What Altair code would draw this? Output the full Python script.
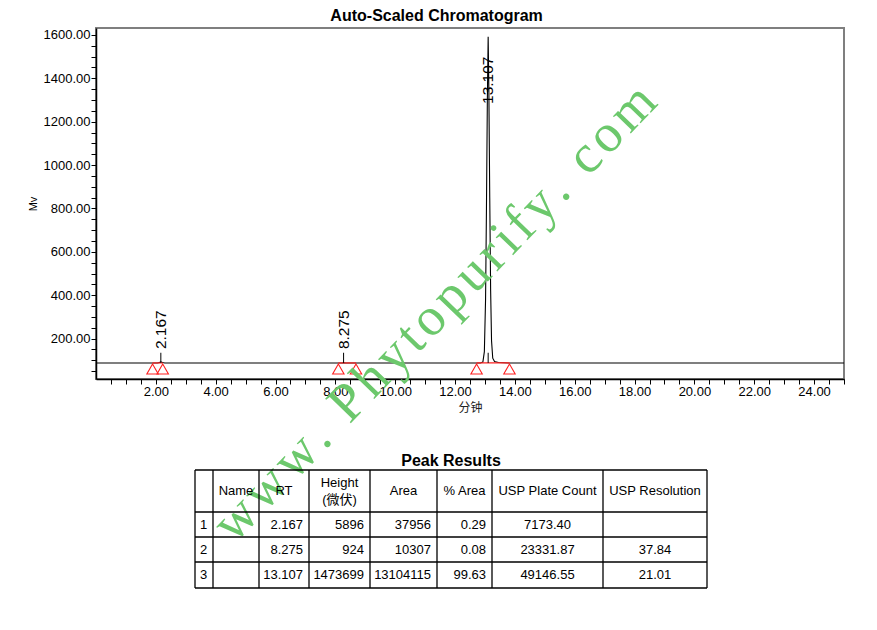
import altair as alt
import pandas as pd

# ---------------- data: chromatogram trace (minutes, mV) ----------------
time_min = [0.0, 2.05, 2.12, 2.167, 2.22, 2.30, 8.20, 8.275, 8.35, 12.85, 12.93, 12.98,
            13.02, 13.05, 13.08, 13.107, 13.13, 13.16, 13.19, 13.22, 13.26, 13.32, 13.45,
            13.80, 25.0]
signal_mv = [87.5, 87.5, 90.0, 93.4, 90.0, 87.5, 87.5, 88.4, 87.5, 87.5, 92.0, 140.0,
             380.0, 800.0, 1300.0, 1592.0, 1350.0, 850.0, 420.0, 190.0, 110.0, 95.0, 90.0,
             88.0, 87.5]

peak_rt = [2.167, 8.275, 13.107]
peak_label = ["2.167", "8.275", "13.107"]
peak_start = [1.89, 8.10, 12.72]
peak_end = [2.23, 8.69, 13.82]
peak_base_mv = [88.0, 88.0, 88.0]
peak_tick_top_mv = [135.0, 135.0, 135.0]
peak_label_mv = [152.0, 152.0, 1282.0]
marker_mv = 60.0

# ---------------- data: peak table ----------------
table_columns = ["", "Name", "RT", "Height\n(微伏)", "Area", "% Area", "USP Plate Count", "USP Resolution"]
row_index = ["1", "2", "3"]
names = ["", "", ""]
rt_text = ["2.167", "8.275", "13.107"]
height_uv = ["5896", "924", "1473699"]
area = ["37956", "10307", "13104115"]
pct_area = ["0.29", "0.08", "99.63"]
plate_count = ["7173.40", "23331.87", "49146.55"]
resolution = ["", "37.84", "21.01"]

# watermark text (letters spread with hair spaces)
watermark_text = "\u200a".join("www. Phytopurify. com")

# ---------------- layout (table geometry, relative to table panel) ----------------
col_edges = [99, 117, 163, 213, 274, 341, 396, 507, 611]
row_edges = [19, 61, 86, 111, 137]
col_align = ["left", "center", "right", "right", "right", "right", "center", "center"]
LINE_H = 17

FONT = "Liberation Sans, Arial, Noto Sans CJK SC"
CJK = "Noto Sans CJK SC"

x_tick_values = [i * 0.5 for i in range(1, 51)]
y_tick_values = [i * 50 for i in range(1, 33)]

xscale = alt.Scale(domain=[0, 25], nice=False, zero=False)
yscale = alt.Scale(domain=[14, 1632], nice=False, zero=False)

xaxis = alt.Axis(
    values=x_tick_values,
    labelExpr="(datum.value % 2 === 0 && datum.value < 25) ? format(datum.value, '.2f') : ''",
    labelOverlap=False, labelFlush=False, grid=False,
    domainColor="black", domainWidth=1.5, tickColor="black", tickWidth=1, tickSize=5,
    labelColor="black", labelFont=FONT, labelFontSize=13, labelPadding=1,
    titleFont=CJK, titleFontSize=12, titleFontWeight="normal", titleColor="#222222",
    titlePadding=4,
)
yaxis = alt.Axis(
    values=y_tick_values,
    labelExpr="datum.value % 200 === 0 ? format(datum.value, '.2f') : ''",
    labelOverlap=False, labelFlush=False, grid=False,
    domainColor="black", domainWidth=1.5, tickColor="black", tickWidth=1, tickSize=5,
    labelColor="black", labelFont=FONT, labelFontSize=13, labelPadding=1,
    titleFont=FONT, titleFontSize=11, titleFontWeight="normal", titleColor="black",
    titlePadding=5,
)


def X(field):
    return alt.X(field, scale=xscale, axis=xaxis, title="分钟")


def Y(field):
    return alt.Y(field, scale=yscale, axis=yaxis, title="Mv")


trace_df = pd.DataFrame({"t": time_min, "mv": signal_mv})
peaks_df = pd.DataFrame({
    "rt": peak_rt, "label": peak_label, "start": peak_start, "end": peak_end,
    "base": peak_base_mv, "tick_top": peak_tick_top_mv, "label_y": peak_label_mv,
})
markers_df = pd.DataFrame({
    "t": peak_start + peak_end,
    "mv": [marker_mv] * (len(peak_start) + len(peak_end)),
})

trace = alt.Chart(trace_df).mark_line(color="black", strokeWidth=1.1).encode(
    x=X("t:Q"), y=Y("mv:Q"),
)

red_base = alt.Chart(peaks_df).mark_rule(color="#ff2020", strokeWidth=1.2).encode(
    x=X("start:Q"), x2="end:Q", y=Y("base:Q"),
)

peak_ticks = alt.Chart(peaks_df).mark_rule(color="black", strokeWidth=1).encode(
    x=X("rt:Q"), y=Y("base:Q"), y2="tick_top:Q",
)

peak_text = alt.Chart(peaks_df).mark_text(
    angle=270, align="left", baseline="middle", font=FONT, fontSize=15.5, color="black"
).encode(
    x=X("rt:Q"), y=Y("label_y:Q"), text="label:N",
)

markers = alt.Chart(markers_df).mark_point(
    shape="triangle-up", filled=False, color="#ff2020", size=130, strokeWidth=1.1, opacity=1
).encode(
    x=X("t:Q"), y=Y("mv:Q"),
)

watermark = alt.Chart(pd.DataFrame({"w": [watermark_text]})).mark_text(
    angle=314, align="center", baseline="middle",
    font="Liberation Serif, DejaVu Serif, serif",
    fontSize=54, color="#6cc86c"
).encode(x=alt.value(339), y=alt.value(285), text="w:N")

chrom = alt.layer(trace, red_base, peak_ticks, markers, peak_text, watermark).properties(
    width=748, height=351,
    view=alt.ViewBackground(stroke="#7f7f7f", strokeWidth=2),
)

# ---------------- table panel ----------------
rows = [table_columns] + [list(r) for r in zip(row_index, names, rt_text, height_uv,
                                              area, pct_area, plate_count, resolution)]
cells = []
for r, row in enumerate(rows):
    yc = (row_edges[r] + row_edges[r + 1]) / 2
    for c, txt in enumerate(row):
        if txt == "":
            continue
        a = "center" if r == 0 else col_align[c]
        if a == "left":
            xc = col_edges[c] + 5
        elif a == "right":
            xc = col_edges[c + 1] - 6
        else:
            xc = (col_edges[c] + col_edges[c + 1]) / 2
        n_lines = txt.count("\n") + 1
        cells.append({"x": xc, "y": yc - (n_lines - 1) * LINE_H / 2, "text": txt, "align": a})
cells_df = pd.DataFrame(cells)

xt = alt.Scale(domain=[0, 748], nice=False, zero=False)
yt = alt.Scale(domain=[0, 140], nice=False, zero=False, reverse=True)


def cell_layer(a):
    return alt.Chart(cells_df).transform_filter(alt.datum.align == a).mark_text(
        align=a, baseline="middle", font=FONT, fontSize=13, color="black",
        lineBreak="\n", lineHeight=LINE_H,
    ).encode(
        x=alt.X("x:Q", scale=xt, axis=None),
        y=alt.Y("y:Q", scale=yt, axis=None),
        text="text:N",
    )


hlines = pd.DataFrame({"y": row_edges, "x": [col_edges[0]] * len(row_edges),
                       "x2": [col_edges[-1]] * len(row_edges)})
vlines = pd.DataFrame({"x": col_edges, "y": [row_edges[0]] * len(col_edges),
                       "y2": [row_edges[-1]] * len(col_edges)})

h_rules = alt.Chart(hlines).mark_rule(color="black", strokeWidth=1.3).encode(
    x=alt.X("x:Q", scale=xt, axis=None), x2="x2:Q",
    y=alt.Y("y:Q", scale=yt, axis=None),
)
v_rules = alt.Chart(vlines).mark_rule(color="black", strokeWidth=1.3).encode(
    x=alt.X("x:Q", scale=xt, axis=None),
    y=alt.Y("y:Q", scale=yt, axis=None), y2="y2:Q",
)
table_title = alt.Chart(pd.DataFrame({
    "x": [(col_edges[0] + col_edges[-1]) / 2], "y": [10], "t": ["Peak Results"]
})).mark_text(
    align="center", baseline="middle", font=FONT, fontSize=16, fontWeight="bold", color="black"
).encode(
    x=alt.X("x:Q", scale=xt, axis=None),
    y=alt.Y("y:Q", scale=yt, axis=None),
    text="t:N",
)

table = alt.layer(h_rules, v_rules, cell_layer("left"), cell_layer("center"),
                  cell_layer("right"), table_title).properties(
    width=748, height=140,
    view=alt.ViewBackground(stroke=None),
)

chart = alt.vconcat(chrom, table, spacing=72, bounds="flush").properties(
    title=alt.TitleParams("Auto-Scaled Chromatogram", font=FONT, fontSize=16,
                          fontWeight="bold", color="black", anchor="middle", offset=3),
    padding={"left": 18, "top": 0, "right": 5, "bottom": 5},
).configure(background="white")

chart.save("out.html", embed_options={"renderer": "svg", "actions": False})
